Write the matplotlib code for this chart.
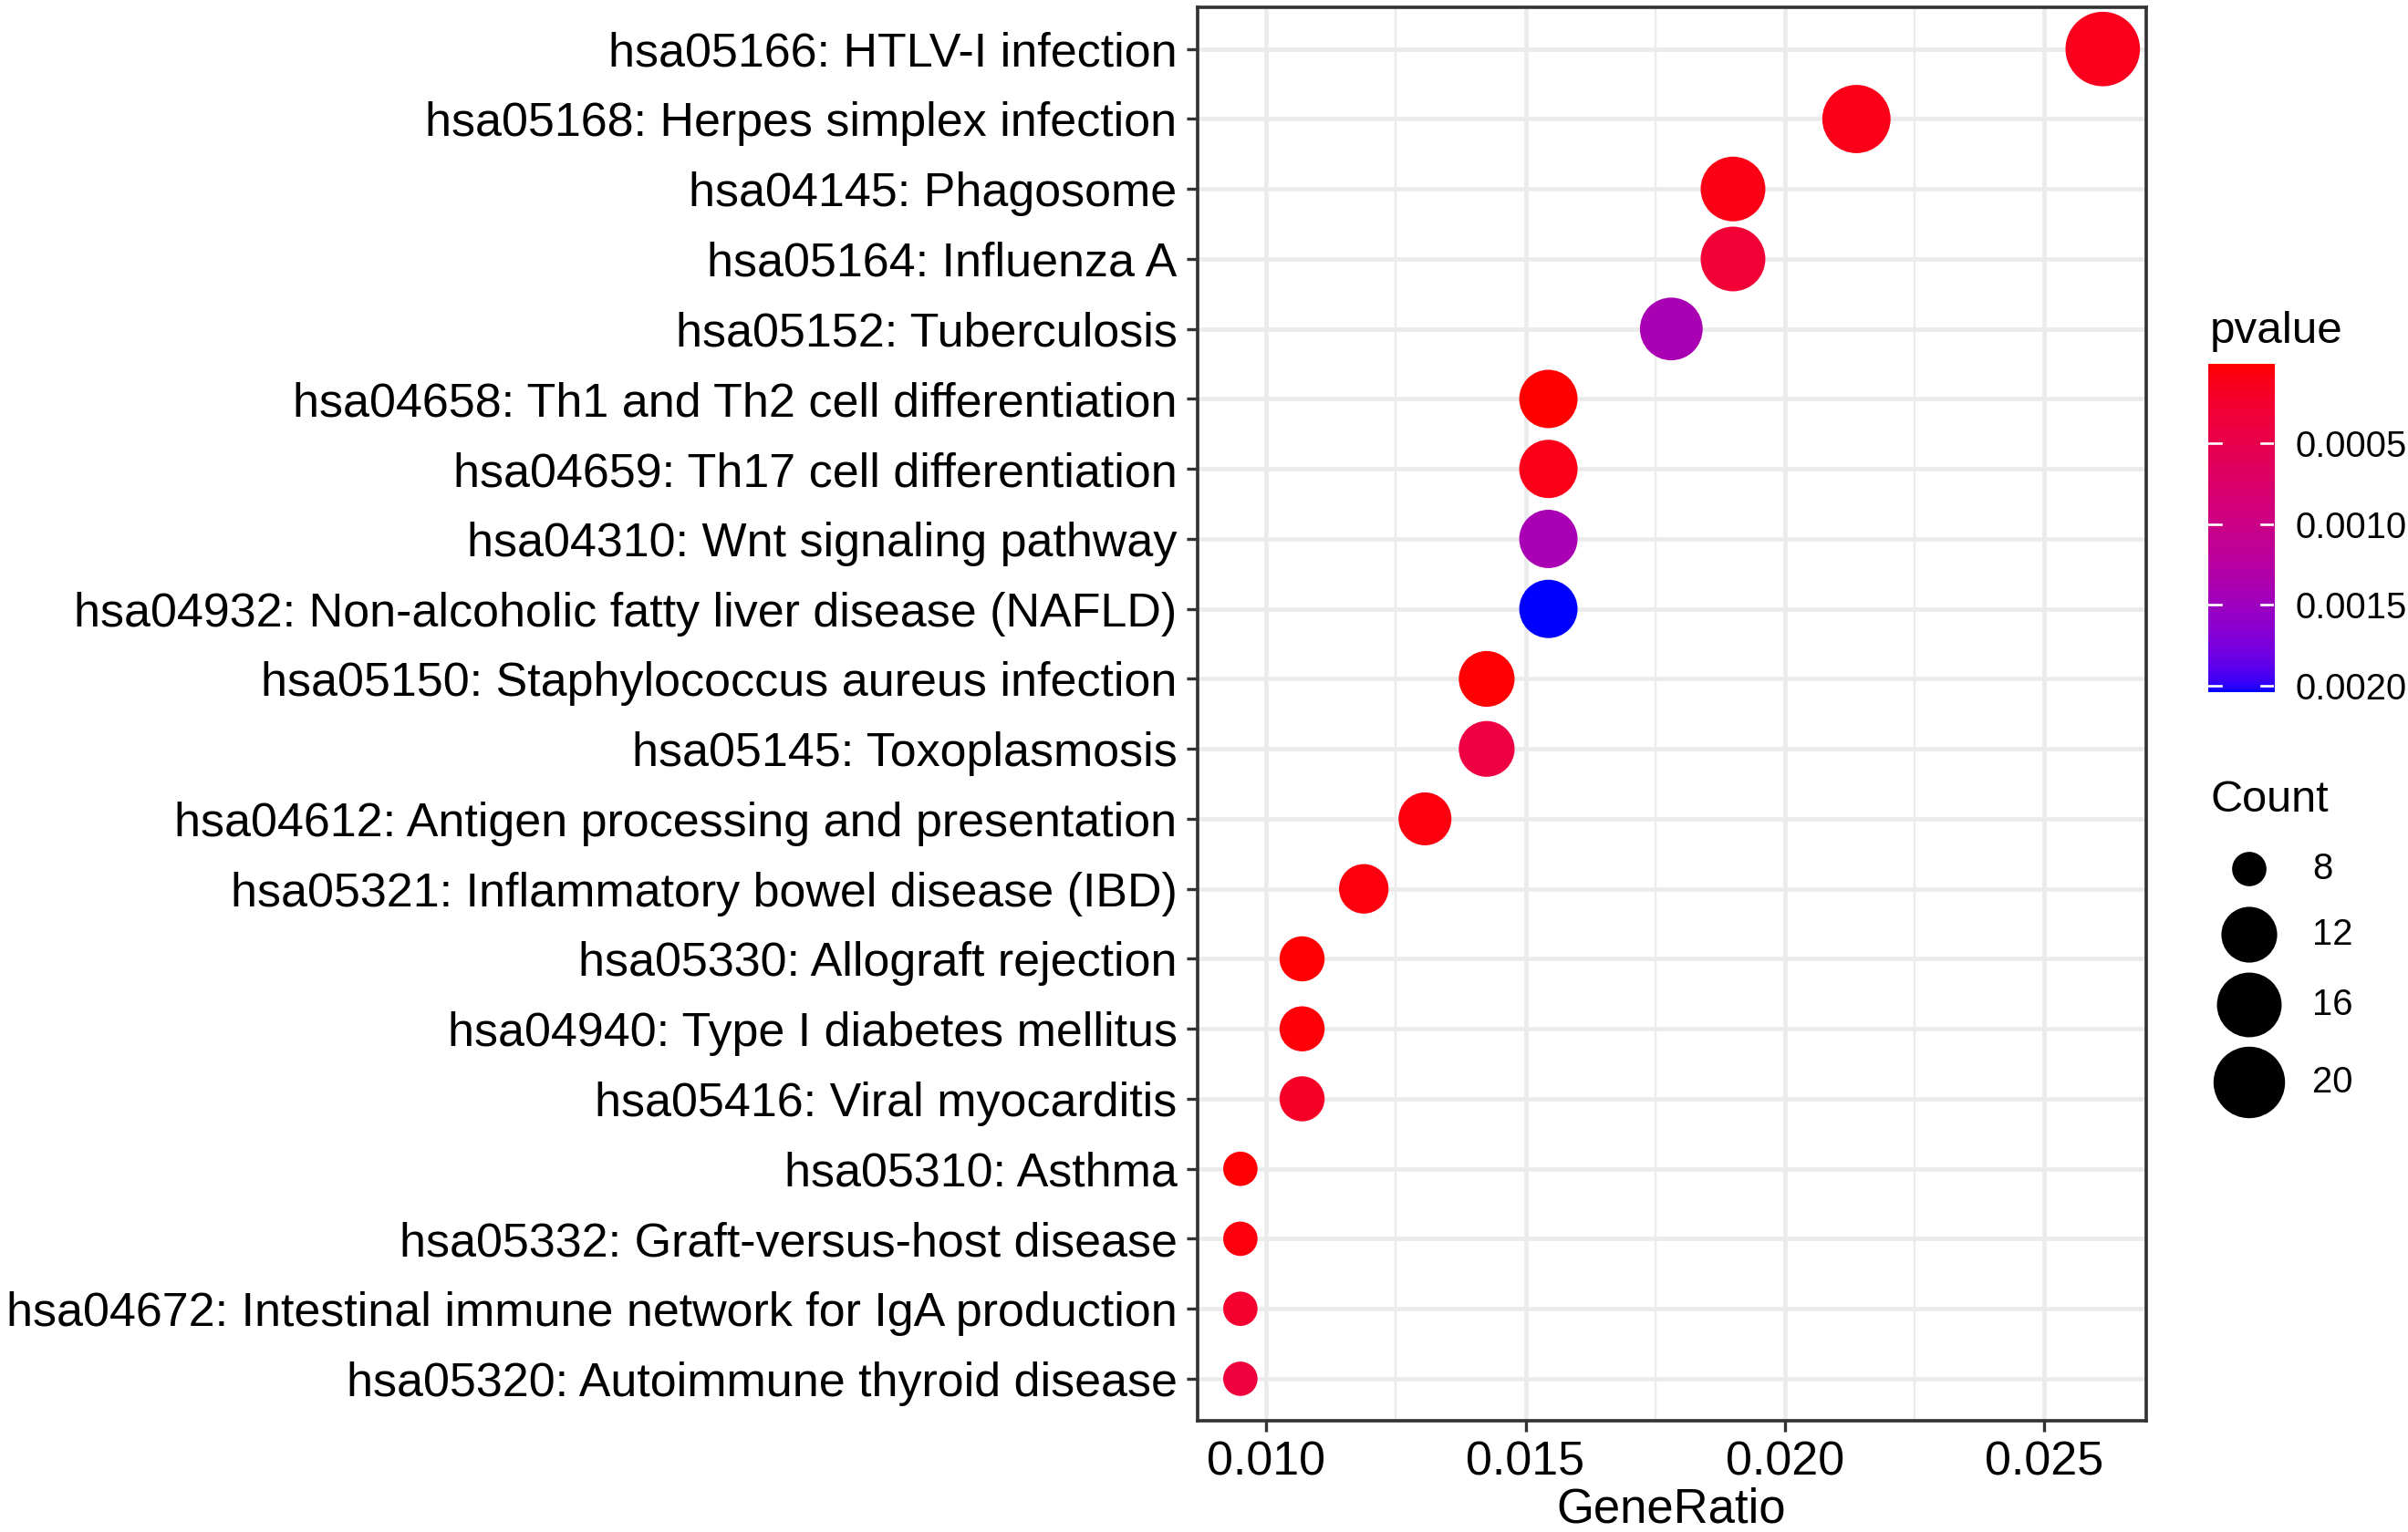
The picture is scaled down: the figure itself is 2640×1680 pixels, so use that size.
import numpy as np
import matplotlib
matplotlib.use('Agg')
import matplotlib.pyplot as plt
from matplotlib.colors import ListedColormap, Normalize

plt.rcParams['font.family'] = ['Liberation Sans', 'DejaVu Sans']

## DATA (top row first)
pathways = [
    'hsa05166: HTLV-I infection',
    'hsa05168: Herpes simplex infection',
    'hsa04145: Phagosome',
    'hsa05164: Influenza A',
    'hsa05152: Tuberculosis',
    'hsa04658: Th1 and Th2 cell differentiation',
    'hsa04659: Th17 cell differentiation',
    'hsa04310: Wnt signaling pathway',
    'hsa04932: Non-alcoholic fatty liver disease (NAFLD)',
    'hsa05150: Staphylococcus aureus infection',
    'hsa05145: Toxoplasmosis',
    'hsa04612: Antigen processing and presentation',
    'hsa05321: Inflammatory bowel disease (IBD)',
    'hsa05330: Allograft rejection',
    'hsa04940: Type I diabetes mellitus',
    'hsa05416: Viral myocarditis',
    'hsa05310: Asthma',
    'hsa05332: Graft-versus-host disease',
    'hsa04672: Intestinal immune network for IgA production',
    'hsa05320: Autoimmune thyroid disease',
]
counts = [22, 18, 16, 16, 15, 13, 13, 13, 13, 12, 12, 11, 10, 9, 9, 9, 8, 8, 8, 8]
gene_ratio = [0.02613, 0.02138, 0.01900, 0.01900, 0.01781, 0.01544, 0.01544, 0.01544,
              0.01544, 0.01425, 0.01425, 0.01306, 0.01188, 0.01069, 0.01069, 0.01069,
              0.00950, 0.00950, 0.00950, 0.00950]
pvalues = [0.00012, 0.00010, 0.00009, 0.00030, 0.00140, 0.000005, 0.00010, 0.00140,
           0.00204, 0.00002, 0.00040, 0.00006, 0.00006, 0.00002, 0.00003, 0.00020,
           0.00002, 0.00006, 0.00025, 0.00035]

cbar_ticks = [0.0005, 0.0010, 0.0015, 0.0020]
legend_counts = [8, 12, 16, 20]


## red -> blue ramp interpolated in CIELAB (like ggplot's gradient)
def lab_to_rgb(L, a, b):
    fy = (L + 16) / 116
    fx = fy + a / 500
    fz = fy - b / 200
    def finv(t):
        return np.where(t > 6 / 29, t ** 3, 3 * (6 / 29) ** 2 * (t - 4 / 29))
    X = 0.95047 * finv(fx)
    Y = 1.0 * finv(fy)
    Z = 1.08883 * finv(fz)
    r = 3.2406 * X - 1.5372 * Y - 0.4986 * Z
    g = -0.9689 * X + 1.8758 * Y + 0.0415 * Z
    bb = 0.0557 * X - 0.2040 * Y + 1.0570 * Z
    rgb = np.stack([r, g, bb], axis=-1)
    rgb = np.where(rgb <= 0.0031308, 12.92 * rgb, 1.055 * np.abs(rgb) ** (1 / 2.4) - 0.055)
    return np.clip(rgb, 0, 1)


t = np.linspace(0, 1, 256)[:, None]
red_lab = np.array([53.2408, 80.0925, 67.2032])
blue_lab = np.array([32.2970, 79.1875, -107.8602])
lab = red_lab + t * (blue_lab - red_lab)
cmap = ListedColormap(lab_to_rgb(lab[:, 0], lab[:, 1], lab[:, 2]))

pmin, pmax = min(pvalues), max(pvalues)
norm = Normalize(pmin, pmax)

cmin, cmax = min(counts), max(counts)


def dot_size(c):
    c = np.asarray(c, dtype=float)
    d = 11.3 + 13.2 * np.sqrt((c - cmin) / (cmax - cmin))
    return d ** 2


W, H = 2640, 1680
fig = plt.figure(figsize=(11, 7), dpi=240)
ax = fig.add_axes([1312.6 / W, 1 - 1558 / H, (2352.6 - 1312.6) / W, (1558 - 7.7) / H])

n = len(pathways)
ypos = np.arange(n)[::-1]
ax.scatter(gene_ratio, ypos, s=dot_size(counts), c=pvalues, cmap=cmap, norm=norm,
           edgecolors='none', zorder=3)

ax.set_yticks(ypos)
ax.set_yticklabels(pathways)
ax.set_ylim(-0.6, n - 0.4)
span = max(gene_ratio) - min(gene_ratio)
ax.set_xlim(min(gene_ratio) - 0.05 * span, max(gene_ratio) + 0.05 * span)
ax.set_xticks([0.010, 0.015, 0.020, 0.025])
ax.set_xticklabels(['0.010', '0.015', '0.020', '0.025'])
ax.set_xticks([0.0125, 0.0175, 0.0225], minor=True)

ax.grid(which='major', color='#EBEBEB', linewidth=1.4, zorder=0)
ax.grid(which='minor', axis='x', color='#EBEBEB', linewidth=0.7, zorder=0)
ax.set_axisbelow(True)
ax.tick_params(which='major', length=3.6, width=1.0, color='#333333',
               labelsize=15.6, labelcolor='black', pad=3.0)
ax.tick_params(which='minor', length=0)
for sp in ax.spines.values():
    sp.set_color('#333333')
    sp.set_linewidth(1.1)
ax.set_xlabel('GeneRatio', fontsize=15.8, va='baseline')
ax.xaxis.set_label_coords(0.5, (1558 - 1670) / (1558 - 7.7))

## colour bar legend
cax = fig.add_axes([2421 / W, 1 - 758.8 / H, (2493.3 - 2421) / W, (758.8 - 398.8) / H])
grad = np.linspace(pmin, pmax, 256).reshape(-1, 1)
cax.imshow(grad, cmap=cmap, norm=norm, aspect='auto', extent=[0, 1, pmax, pmin])
cax.set_xlim(0, 1)
cax.set_ylim(pmax, pmin)
cax.set_xticks([])
cax.yaxis.tick_right()
cax.set_yticks(cbar_ticks)
cax.set_yticklabels(['%.4f' % v for v in cbar_ticks])
cax.tick_params(axis='y', length=0, pad=7, labelsize=12)
for v in cbar_ticks:
    cax.plot([0, 0.2], [v, v], color='white', lw=0.8)
    cax.plot([0.8, 1], [v, v], color='white', lw=0.8)
for sp in cax.spines.values():
    sp.set_visible(False)
fig.text(2422.7 / W, 1 - 375.8 / H, 'pvalue', fontsize=14.8, va='baseline')

## size legend
lax = fig.add_axes([0, 0, 1, 1])
lax.set_xlim(0, W)
lax.set_ylim(H, 0)
lax.axis('off')
legend_y = [953, 1025, 1102, 1187]
lax.scatter([2466] * len(legend_counts), legend_y, s=dot_size(legend_counts), c='black',
            edgecolors='none')
for yy, c in zip(legend_y, legend_counts):
    lax.text(2535, yy, str(c), fontsize=12, va='center', ha='left')
lax.text(2423, 890, 'Count', fontsize=14.6, va='baseline', ha='left')

fig.savefig('out.png', dpi=240)
